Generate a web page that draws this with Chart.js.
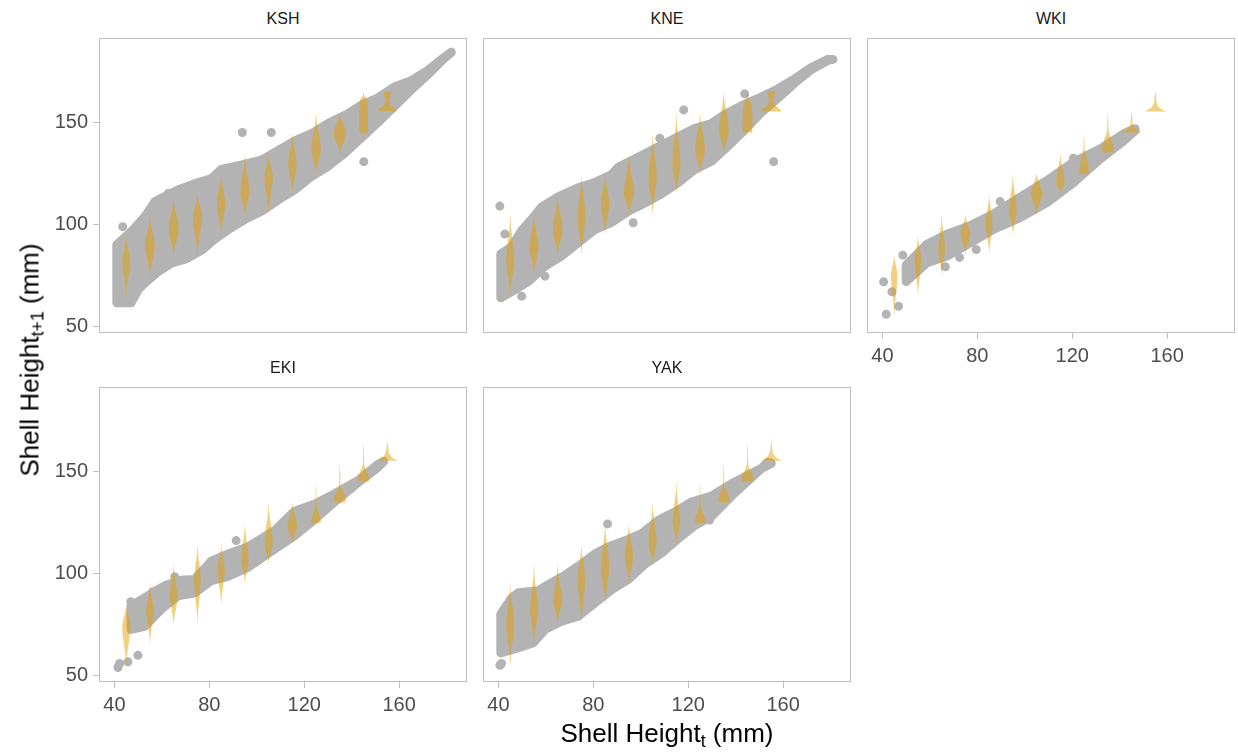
<!DOCTYPE html>
<html>
<head>
<meta charset="utf-8">
<script src="https://cdn.jsdelivr.net/npm/chart.js@4.4.1/dist/chart.umd.min.js"></script>
<style>
    body { margin: 0; background: #fff; width: 1238px; height: 755px; position: relative; overflow: hidden;
           font-family: "Liberation Sans", Arial, sans-serif; }
    canvas { position: absolute; }
    .strip { position: absolute; width: 368px; height: 20px; line-height: 20px; text-align: center;
             font-size: 16px; color: #1a1a1a; }
    .axis-title { position: absolute; font-size: 26px; color: #000; white-space: nowrap; }
    .axis-title sub { font-size: 0.68em; vertical-align: -0.3em; line-height: 0; }
</style>
</head>
<body>
<div id="page"></div>
<div class="axis-title" id="xTitle" style="left:667px;top:733px;transform:translate(-50%,-50%)">Shell Height<sub>t</sub> (mm)</div>
<div class="axis-title" id="yTitle" style="left:30px;top:360px;transform:translate(-50%,-50%) rotate(-90deg)">Shell Height<sub>t+1</sub> (mm)</div>
<script>
// Axes shared by every facet
const xTicks = [40, 80, 120, 160];
const yTicks = [50, 100, 150];
const xRange = [33.5, 188.6];
const yRange = [46.7, 191.5];
const violinX = [45, 55, 65, 75, 85, 95, 105, 115, 125, 135, 145, 155];

// KSH
const kshLowX  = [41, 47, 50, 53, 58, 64, 70, 77, 82, 88, 95, 102, 109, 116, 123, 130, 137, 144, 151, 158, 165, 172, 179, 182];
const kshLowY  = [61.5, 61.5, 68, 71.5, 76.5, 81, 83, 87.5, 92.5, 97.5, 102.5, 106.5, 112, 117, 123.5, 128.5, 135, 142.5, 150, 158, 166, 173.5, 181.5, 184.5];
const kshHighX = [41, 48, 53, 57, 60, 67, 74, 81, 85, 91, 102, 110, 116, 123, 130, 138, 144, 151, 158, 165, 172, 179, 182];
const kshHighY = [90, 97.5, 104, 111, 113, 117, 120, 122.5, 127, 128.5, 131.5, 137, 141, 144.5, 149.5, 154, 158.5, 162, 167.5, 170.5, 175.5, 182, 184.5];
const kshOutX  = [43.5, 62.8, 93.9, 106.1, 145.1];
const kshOutY  = [98.9, 115.3, 145.1, 145.1, 130.8];
// [bottom, widest, top, half width, shape]
const kshViolins = [
    [64.4, 82.5, 94.7, 1.6, 's'], [74.3, 89, 105.4, 2.0, 's'], [84.5, 97.2, 113.6, 2.1, 's'],
    [84.5, 103.8, 115.3, 1.9, 's'], [94.7, 110.3, 125.1, 1.75, 's'], [104.6, 115.3, 134.9, 1.9, 's'],
    [104.6, 123.5, 134.6, 1.8, 's'], [114.9, 130, 144.8, 1.75, 's'], [124.7, 136.6, 154.9, 2.0, 's'],
    [134.6, 144.8, 154.9, 2.7, 's'], [144.8, 161, 165.2, 1.9, 'r'], [155.4, 160.3, 164.8, 4.2, 'h']
];

// KNE
const kneLowX  = [41, 47, 52.6, 59.6, 66.6, 73.6, 80.6, 87.7, 94.7, 101.7, 108.7, 115.7, 122.7, 129.8, 136.8, 143.8, 150.8, 157.8, 164.9, 171.9, 178.9, 181];
const kneLowY  = [64, 68, 72, 79.5, 84.5, 91, 97.5, 101, 106.5, 110.5, 115, 120.5, 127, 131, 138.5, 146.5, 155, 162, 169.5, 176, 180.5, 181];
const kneHighX = [41, 45.6, 49.8, 54, 58.2, 65.2, 73.6, 80.6, 87.7, 90.5, 98.9, 107.3, 115.7, 122.7, 129.8, 135.4, 143.8, 150.8, 157.8, 164.9, 171.9, 178.9, 181];
const kneHighY = [85.5, 89, 97, 102.5, 108.5, 113.5, 118, 120.5, 124.5, 128, 133, 138, 143, 147, 149.5, 154, 159, 162.5, 166.5, 171.5, 177, 181, 181];
const kneOutX  = [40.6, 42.7, 49.8, 59.6, 96.8, 108, 118.1, 143.8, 156];
const kneOutY  = [109, 95.3, 64.8, 74.6, 100.8, 142.3, 156.2, 164.1, 130.8];
const kneViolins = [
    [64.8, 82.5, 105.1, 1.7, 's'], [74.6, 89, 105.4, 1.9, 's'], [84.5, 97.2, 114.4, 2.0, 's'],
    [84.5, 103.8, 124.8, 1.7, 's'], [94.7, 110.3, 124.8, 1.75, 's'], [104.6, 115.3, 134.9, 2.1, 's'],
    [104.6, 123.5, 145.1, 1.75, 's'], [114.9, 130, 154.9, 1.7, 's'], [124.7, 136.6, 154.9, 2.1, 's'],
    [134.6, 146.4, 165.2, 2.1, 's'], [145.1, 159, 165.2, 2.1, 'r'], [155.4, 160.3, 165.2, 4.4, 'h']
];

// WKI
const wkiLowX  = [50, 58.8, 67.2, 77, 86.8, 98, 109.3, 120.5, 131.7, 141.6, 146.5];
const wkiLowY  = [72, 81.2, 84.5, 91, 97.6, 103.3, 110.7, 120.5, 132, 141, 146];
const wkiHighX = [50, 58.8, 67.2, 77, 86.8, 98, 109.3, 120.5, 131.7, 141.6, 146.5];
const wkiHighY = [80, 90.3, 95.2, 99.3, 105.1, 113.3, 121.5, 130.5, 137, 144.4, 147];
const wkiOutX  = [40.5, 41.6, 44, 46.8, 48.6, 52, 54.3, 60.9, 64.4, 66.5, 72.5, 79.5, 89.6, 120.5];
const wkiOutY  = [71.8, 55.9, 66.9, 59.8, 84.9, 77, 82.5, 90.7, 89.8, 79.2, 83.8, 87.7, 111.2, 132.5];
const wkiViolins = [
    [54.6, 75, 84.9, 1.4, 's'], [64.4, 82.5, 94.7, 1.4, 's'], [74.6, 87.4, 105.1, 1.4, 's'],
    [84.9, 95.6, 104.6, 2.1, 's'], [84.9, 100.5, 115.3, 1.4, 's'], [94.7, 107, 125.1, 1.55, 's'],
    [104.6, 115.3, 125.1, 2.5, 's'], [114.9, 120.5, 135.3, 1.75, 's'], [124.7, 136.6, 145.1, 2.0, 'b'],
    [135.3, 146, 154.9, 2.5, 'b'], [145.1, 149.7, 155.4, 4.4, 't'], [155.4, 160.3, 165.2, 4.6, 't']
];

// EKI
const ekiLowX  = [47, 52.7, 59.8, 66.8, 73.8, 80.8, 87.8, 96.3, 107.5, 115.9, 124.3, 132.7, 142.6, 151, 153.5];
const ekiLowY  = [72.5, 74, 82.5, 89, 90.5, 96.5, 98.5, 103, 112, 118.5, 126.5, 135, 144.5, 152, 155];
const ekiHighX = [47, 52.7, 59.8, 66.8, 73.8, 80.8, 87.8, 96.3, 107.5, 115.9, 124.3, 132.7, 142.6, 151, 153.5];
const ekiHighY = [84, 88, 93, 96.5, 97, 106, 109.5, 113, 121, 130.5, 134, 139, 145.5, 153.5, 155];
const ekiOutX  = [41.5, 42.2, 45.7, 49.9, 46.9, 49.2, 56.3, 61.9, 65.4, 68.9, 72.4, 91.3];
const ekiOutY  = [53.8, 55.8, 56.6, 59.8, 86.1, 81.2, 91, 94.3, 98.4, 96.7, 90.2, 116.1];
const ekiViolins = [
    [54.4, 73.8, 84.9, 1.75, 's'], [64.8, 82, 95.1, 1.6, 's'], [74.6, 88.5, 104.9, 1.6, 's'],
    [74.6, 96.7, 114.8, 1.4, 's'], [84.4, 101.6, 114.8, 1.5, 's'], [94.8, 106.6, 124.9, 1.5, 's'],
    [104.9, 114.8, 134.8, 1.75, 's'], [114.8, 123, 134.8, 2.0, 's'], [124.6, 133, 145.1, 2.0, 'b'],
    [134.8, 143, 154.9, 2.5, 'b'], [145.1, 153, 164.8, 2.4, 'b'], [155.3, 160.3, 164.8, 4.5, 't']
];

// YAK
const yakLowX  = [41, 48.4, 54.7, 59.6, 66.6, 73.6, 80.6, 87.7, 94.7, 101.7, 108.7, 115.7, 122.7, 129.8, 138.2, 146.6, 153.6, 155];
const yakLowY  = [61, 63.5, 66, 72.5, 76.5, 79, 85.5, 92, 97, 104.5, 110, 117, 123.5, 128, 138, 147, 154.5, 154];
const yakHighX = [41, 45.6, 48.4, 56.8, 61, 68, 73.6, 80.6, 86.3, 93.3, 100.3, 107.3, 115.7, 121.3, 129.8, 138.2, 146.6, 155];
const yakHighY = [80, 88, 90.5, 91.5, 94.5, 99, 103.5, 109.5, 113, 116, 119.5, 126, 131, 135, 138, 144, 149, 154];
const yakOutX  = [40.6, 41.3, 86, 129];
const yakOutY  = [54.9, 55.8, 124.3, 126.2];
const yakViolins = [
    [54.4, 75.4, 94.8, 1.7, 's'], [64.8, 82, 104.6, 1.6, 's'], [74.6, 86.9, 104.6, 1.75, 's'],
    [74.6, 96.7, 114.8, 1.55, 's'], [84.4, 103.3, 124.6, 1.7, 's'], [94.8, 108.2, 124.6, 1.75, 's'],
    [104.6, 114.8, 134.8, 1.7, 's'], [114.8, 124.6, 145.1, 1.55, 's'], [124.6, 133, 145.1, 2.1, 'b'],
    [134.8, 143, 154.9, 2.3, 'b'], [145.1, 153, 164.8, 2.5, 'b'], [155.3, 160.3, 165.1, 4.5, 't']
];

// Violin outline templates: [fraction of the way, relative width]
const violinShapes = {
    s: { lo: [[0, 0], [0.3, 0.2], [0.7, 0.75], [1, 1]], hi: [[0.3, 0.75], [0.7, 0.2], [1, 0]] },
    r: { lo: [[0, 0.95], [0.5, 1], [1, 0.75]], hi: [[0.5, 0.2], [1, 0]] },
    h: { lo: [[0, 1], [0.25, 0.8], [0.6, 0.4], [1, 0.22]], hi: [[0.5, 0.28], [1, 0.33]] },
    b: { lo: [[0, 0.9], [0.2, 1], [0.6, 0.6], [1, 0.15]], hi: [[0.5, 0.08], [1, 0]] },
    t: { lo: [[0, 1], [0.3, 0.45], [0.7, 0.18], [1, 0.1]], hi: [[0.5, 0.06], [1, 0]] }
};

const FONT = '"Liberation Sans", Arial, sans-serif';
const CLOUD = '#B3B3B3';
const VIOLIN = 'rgba(230,159,0,0.5)';
const FRAME = '#BFBFBF';

const panels = [
    { name: 'KSH', left: 99,  top: 38,  showX: false, showY: true,  lowX: kshLowX, lowY: kshLowY, highX: kshHighX, highY: kshHighY, outX: kshOutX, outY: kshOutY, violins: kshViolins },
    { name: 'KNE', left: 483, top: 38,  showX: false, showY: false, lowX: kneLowX, lowY: kneLowY, highX: kneHighX, highY: kneHighY, outX: kneOutX, outY: kneOutY, violins: kneViolins },
    { name: 'WKI', left: 867, top: 38,  showX: true,  showY: false, lowX: wkiLowX, lowY: wkiLowY, highX: wkiHighX, highY: wkiHighY, outX: wkiOutX, outY: wkiOutY, violins: wkiViolins },
    { name: 'EKI', left: 99,  top: 387, showX: true,  showY: true,  lowX: ekiLowX, lowY: ekiLowY, highX: ekiHighX, highY: ekiHighY, outX: ekiOutX, outY: ekiOutY, violins: ekiViolins },
    { name: 'YAK', left: 483, top: 387, showX: true,  showY: false, lowX: yakLowX, lowY: yakLowY, highX: yakHighX, highY: yakHighY, outX: yakOutX, outY: yakOutY, violins: yakViolins }
];

const PANEL_W = 368, PANEL_H = 295, AXIS_W = 60, AXIS_H = 40;

// border round each facet
const framePlugin = {
    id: 'panelFrame',
    afterDraw(chart) {
        const { ctx, chartArea: a } = chart;
        ctx.save();
        ctx.strokeStyle = FRAME;
        ctx.lineWidth = 1;
        ctx.strokeRect(a.left + 0.5, a.top + 0.5, a.right - a.left - 1, a.bottom - a.top - 1);
        ctx.restore();
    }
};

function violinOutline(cx, v) {
    const [bottom, mid, top, hw, kind] = v;
    const shape = violinShapes[kind];
    const prof = shape.lo.map(([f, w]) => [bottom + f * (mid - bottom), w])
        .concat(shape.hi.map(([f, w]) => [mid + f * (top - mid), w]));
    const left = prof.map(([y, w]) => ({ x: cx - w * hw, y }));
    const right = prof.slice().reverse().map(([y, w]) => ({ x: cx + w * hw, y }));
    return left.concat(right);
}

function cloudOutline(p) {
    const pts = p.lowX.map((x, i) => ({ x, y: p.lowY[i] }));
    for (let i = p.highX.length - 1; i >= 0; i--) pts.push({ x: p.highX[i], y: p.highY[i] });
    pts.push(pts[0]);
    return pts;
}

function makeScale(axis, range, ticks, show) {
    return {
        type: 'linear',
        min: range[0],
        max: range[1],
        afterBuildTicks: s => { s.ticks = ticks.map(v => ({ value: v })); },
        afterFit: s => {
            if (axis === 'x') s.height = AXIS_H; else s.width = AXIS_W;
            // keep the plot area fixed, labels may overhang
            s.paddingTop = s.paddingBottom = s.paddingLeft = s.paddingRight = 0;
        },
        grid: { display: show, drawOnChartArea: false, drawTicks: true, tickLength: 6, tickColor: FRAME, color: FRAME },
        border: { display: false },
        ticks: { display: show, color: '#4D4D4D', font: { family: FONT, size: 20 }, padding: 5, maxRotation: 0, autoSkip: false }
    };
}

const page = document.getElementById('page');
panels.forEach(p => {
    const strip = document.createElement('div');
    strip.className = 'strip';
    strip.style.left = p.left + 'px';
    strip.style.top = (p.top - 29) + 'px';
    strip.textContent = p.name;
    page.appendChild(strip);

    const canvas = document.createElement('canvas');
    canvas.width = PANEL_W + AXIS_W;
    canvas.height = PANEL_H + AXIS_H;
    canvas.style.left = (p.left - AXIS_W) + 'px';
    canvas.style.top = p.top + 'px';
    canvas.style.width = canvas.width + 'px';
    canvas.style.height = canvas.height + 'px';
    page.appendChild(canvas);

    const datasets = [{
        data: cloudOutline(p),
        fill: 'shape',
        backgroundColor: CLOUD,
        borderColor: CLOUD,
        borderWidth: 9,
        borderJoinStyle: 'round',
        borderCapStyle: 'round',
        pointRadius: 0,
        tension: 0,
        order: 3
    }, {
        data: p.outX.map((x, i) => ({ x, y: p.outY[i] })),
        showLine: false,
        pointRadius: 4.5,
        pointBackgroundColor: CLOUD,
        pointBorderWidth: 0,
        order: 2
    }];
    p.violins.forEach((v, i) => {
        datasets.push({
            data: violinOutline(violinX[i], v),
            fill: 'shape',
            backgroundColor: VIOLIN,
            borderColor: 'rgba(0,0,0,0)',
            borderWidth: 0,
            pointRadius: 0,
            tension: 0.3,
            order: 0
        });
    });

    new Chart(canvas, {
        type: 'line',
        data: { datasets },
        options: {
            responsive: false,
            animation: false,
            events: [],
            layout: { padding: 0, autoPadding: false },
            plugins: { legend: { display: false }, tooltip: { enabled: false } },
            scales: {
                x: makeScale('x', xRange, xTicks, p.showX),
                y: makeScale('y', yRange, yTicks, p.showY)
            }
        },
        plugins: [framePlugin]
    });
});
</script>
</body>
</html>
